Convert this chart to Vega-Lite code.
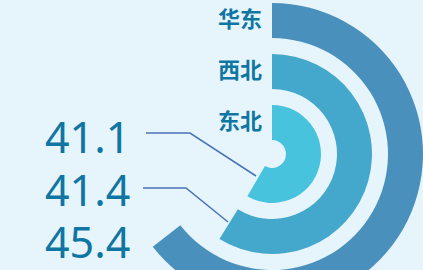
{
  "$schema": "https://vega.github.io/schema/vega-lite/v6.json",
  "width": 423,
  "height": 270,
  "autosize": "none",
  "padding": 0,
  "background": "#e6f4fb",
  "config": {"view": {"stroke": null}},
  "datasets": {
    "regions": [
      {"region": "东北", "value": 41.1, "rank": 0},
      {"region": "西北", "value": 41.4, "rank": 1},
      {"region": "华东", "value": 45.4, "rank": 2}
    ],
    "leaders": [
      {"leader": "东北", "step": 0, "lx": -126, "ly": 21},
      {"leader": "东北", "step": 1, "lx": -82, "ly": 21},
      {"leader": "东北", "step": 2, "lx": -16, "ly": -22},
      {"leader": "西北", "step": 0, "lx": -129, "ly": -34},
      {"leader": "西北", "step": 1, "lx": -86, "ly": -34},
      {"leader": "西北", "step": 2, "lx": -44, "ly": -68}
    ]
  },
  "resolve": {"scale": {"y": "independent"}},
  "layer": [
    {
      "data": {"name": "regions"},
      "mark": {"type": "arc", "radius2Offset": -35},
      "encoding": {
        "x": {"datum": 0, "type": "quantitative", "scale": {"domain": [-272, 151], "nice": false, "zero": false}, "axis": null},
        "y": {"datum": 0, "type": "quantitative", "scale": {"domain": [-116, 154], "nice": false, "zero": false}, "axis": null},
        "theta": {"field": "value", "type": "quantitative", "stack": null, "scale": {"domain": [0, 70.4], "range": [0, 6.283185]}},
        "theta2": {"datum": 0},
        "radius": {"field": "rank", "type": "quantitative", "scale": {"type": "linear", "domain": [0, 2], "range": [49, 151], "zero": false, "nice": false}},
        "radius2": {"field": "rank"},
        "color": {"field": "region", "type": "nominal", "scale": {"domain": ["东北", "西北", "华东"], "range": ["#47c3de", "#44a8cd", "#4a90bd"]}, "legend": null}
      }
    },
    {
      "data": {"name": "regions"},
      "mark": {"type": "text", "align": "right", "baseline": "middle", "dx": -10, "radiusOffset": -17, "font": "Noto Sans CJK SC", "fontSize": 22, "fontWeight": "bold", "color": "#0f76a4"},
      "encoding": {
        "x": {"datum": 0, "type": "quantitative", "scale": {"domain": [-272, 151], "nice": false, "zero": false}, "axis": null},
        "y": {"datum": 0, "type": "quantitative", "scale": {"domain": [-116, 154], "nice": false, "zero": false}, "axis": null},
        "theta": {"datum": 0, "type": "quantitative"},
        "radius": {"field": "rank", "type": "quantitative", "scale": {"type": "linear", "domain": [0, 2], "range": [49, 151], "zero": false, "nice": false}},
        "text": {"field": "region"}
      }
    },
    {
      "data": {"name": "leaders"},
      "mark": {"type": "line", "color": "#4a72b8", "strokeWidth": 1.5},
      "encoding": {
        "x": {"field": "lx", "type": "quantitative", "scale": {"domain": [-272, 151], "nice": false, "zero": false}, "axis": null},
        "y": {"field": "ly", "type": "quantitative", "scale": {"domain": [-116, 154], "nice": false, "zero": false}, "axis": null},
        "detail": {"field": "leader"},
        "order": {"field": "step", "type": "quantitative"}
      }
    },
    {
      "data": {"name": "regions"},
      "mark": {"type": "text", "align": "left", "baseline": "alphabetic", "font": "Noto Sans", "fontSize": 43, "color": "#0f76a4"},
      "encoding": {
        "x": {"datum": -227, "type": "quantitative", "scale": {"domain": [-272, 151], "nice": false, "zero": false}, "axis": null},
        "y": {"field": "rank", "type": "quantitative", "scale": {"domain": [0, 2], "range": [153, 258], "nice": false, "zero": false}, "axis": null},
        "text": {"field": "value", "type": "quantitative", "format": ".1f"}
      }
    }
  ]
}
